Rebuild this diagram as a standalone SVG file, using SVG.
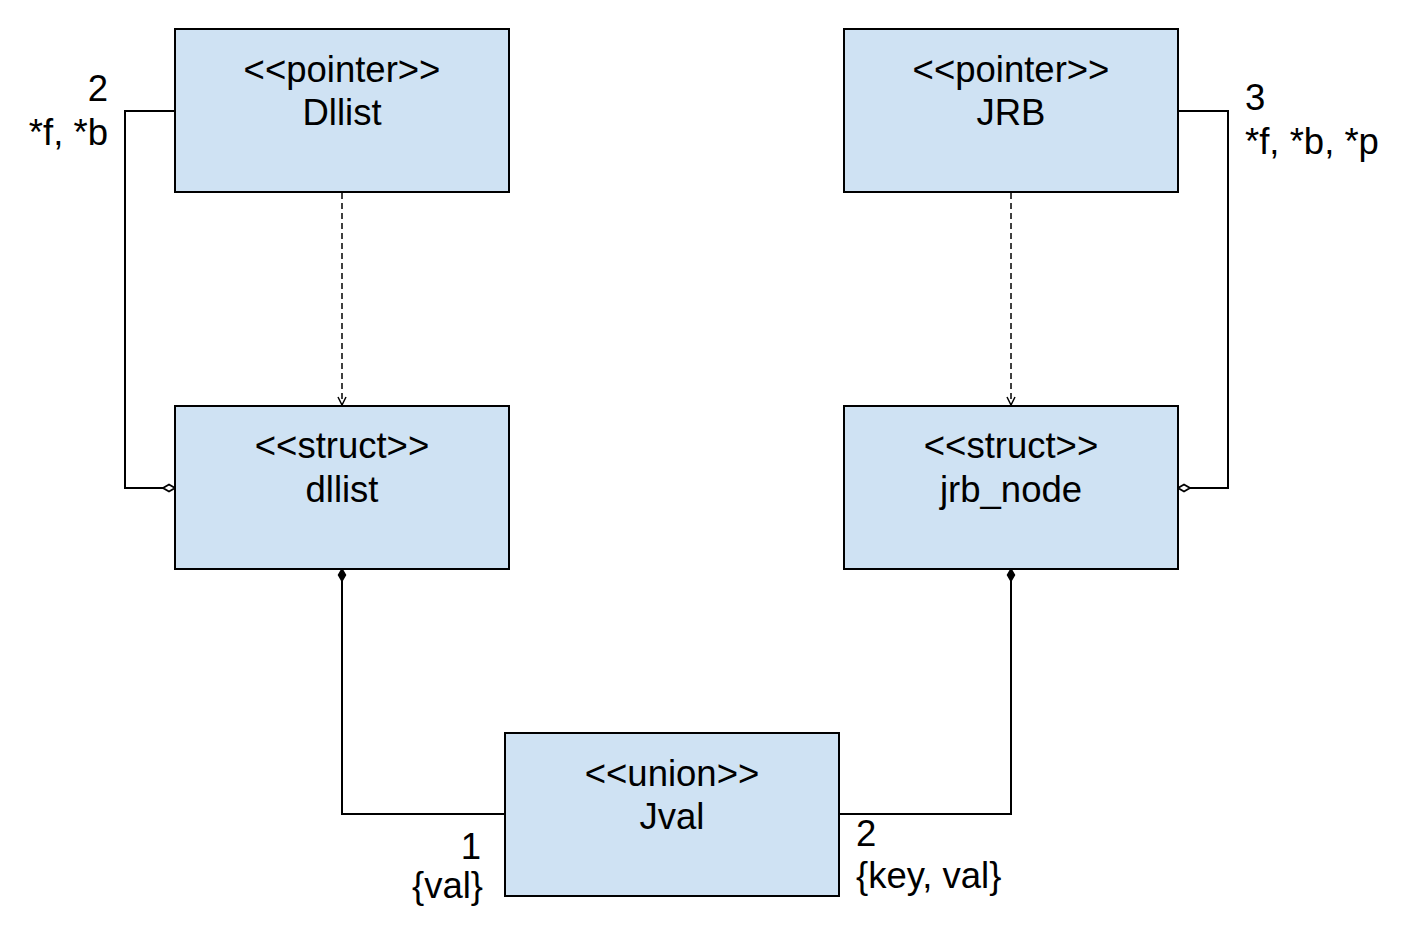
<svg xmlns="http://www.w3.org/2000/svg" width="1415" height="930" viewBox="0 0 1415 930">
<style>
.box{fill:#cfe2f3;stroke:#000;stroke-width:2}
text{font-family:"Liberation Sans",Arial,sans-serif;font-size:36.5px;fill:#000}
.c{text-anchor:middle}
.r{text-anchor:end}
.ln{fill:none;stroke:#000;stroke-width:2}
.dash{fill:none;stroke:#000;stroke-width:1.5;stroke-dasharray:6,4}
</style>
<defs>
<marker id="hd" viewBox="0 0 14 10" refX="13" refY="5" markerWidth="14" markerHeight="10" markerUnits="userSpaceOnUse" orient="auto">
<path d="M1,5 L7,1.5 L13,5 L7,8.5 Z" fill="#fff" stroke="#000" stroke-width="1.8"/>
</marker>
<marker id="fd" viewBox="0 0 14 10" refX="13" refY="5" markerWidth="14" markerHeight="10" markerUnits="userSpaceOnUse" orient="auto">
<path d="M1,5 L7,1.5 L13,5 L7,8.5 Z" fill="#000" stroke="#000" stroke-width="1.5"/>
</marker>
<marker id="ar" viewBox="0 0 10 10" refX="9" refY="5" markerWidth="10" markerHeight="10" markerUnits="userSpaceOnUse" orient="auto">
<path d="M1,1 L9,5 L1,9" fill="none" stroke="#000" stroke-width="1.5"/>
</marker>
</defs>
<g id="connectors">
<polyline class="ln" points="175,111 125,111 125,488 175,488" marker-end="url(#hd)"/>
<polyline class="ln" points="1178,111 1228,111 1228,488 1178,488" marker-end="url(#hd)"/>
<line class="dash" x1="342" y1="193" x2="342" y2="405" marker-end="url(#ar)"/>
<line class="dash" x1="1011" y1="193" x2="1011" y2="405" marker-end="url(#ar)"/>
<polyline class="ln" points="505,814 342,814 342,569" marker-end="url(#fd)"/>
<polyline class="ln" points="839,814 1011,814 1011,569" marker-end="url(#fd)"/>
<text class="r" x="108" y="101">2</text>
<text class="r" x="108" y="145">*f, *b</text>
<text x="1245" y="110">3</text>
<text x="1245" y="154">*f, *b, *p</text>
<text class="r" x="481" y="859">1</text>
<text class="r" x="483" y="898">{val}</text>
<text x="856" y="846">2</text>
<text x="856" y="888">{key, val}</text>
</g>
<g id="Dllist">
<rect class="box" x="175" y="29" width="334" height="163"/>
<text class="c" x="342" y="82">&lt;&lt;pointer&gt;&gt;</text>
<text class="c" x="342" y="125">Dllist</text>
</g>
<g id="JRB">
<rect class="box" x="844" y="29" width="334" height="163"/>
<text class="c" x="1011" y="82">&lt;&lt;pointer&gt;&gt;</text>
<text class="c" x="1011" y="125">JRB</text>
</g>
<g id="dllist">
<rect class="box" x="175" y="406" width="334" height="163"/>
<text class="c" x="342" y="458">&lt;&lt;struct&gt;&gt;</text>
<text class="c" x="342" y="502">dllist</text>
</g>
<g id="jrb_node">
<rect class="box" x="844" y="406" width="334" height="163"/>
<text class="c" x="1011" y="458">&lt;&lt;struct&gt;&gt;</text>
<text class="c" x="1011" y="502">jrb_node</text>
</g>
<g id="Jval">
<rect class="box" x="505" y="733" width="334" height="163"/>
<text class="c" x="672" y="786">&lt;&lt;union&gt;&gt;</text>
<text class="c" x="672" y="829">Jval</text>
</g>
</svg>
